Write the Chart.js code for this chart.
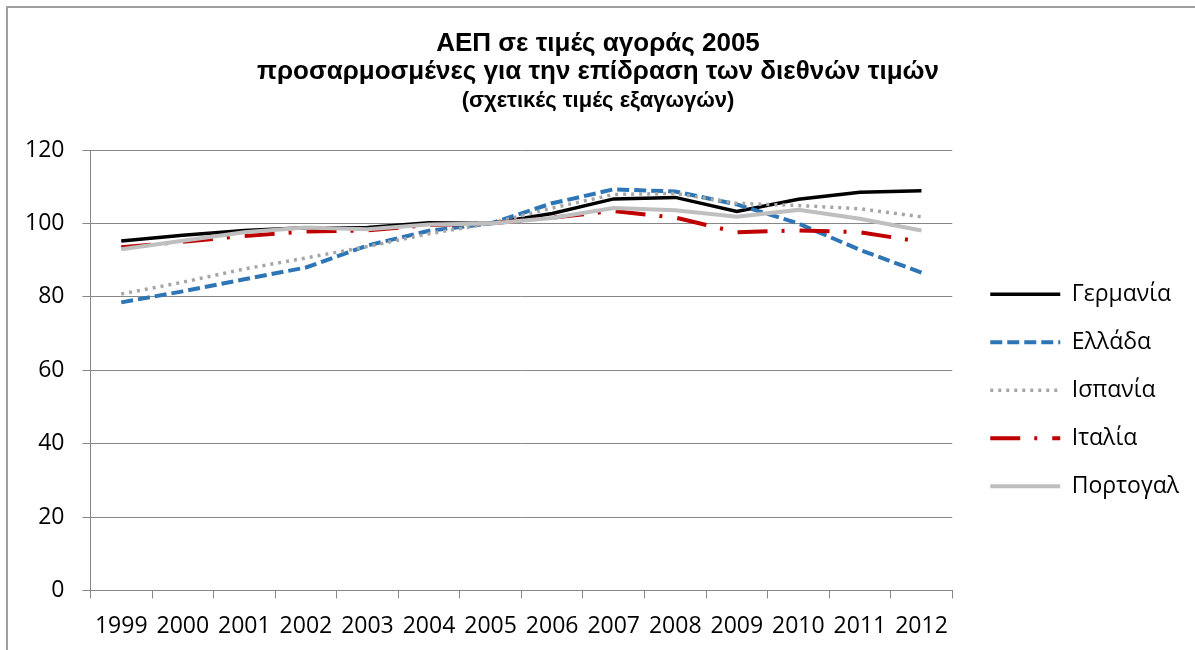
<!DOCTYPE html>
<html>
<head>
<meta charset="utf-8">
<script src="https://cdn.jsdelivr.net/npm/chart.js@4/dist/chart.umd.min.js"></script>
<style>
  html, body { margin: 0; padding: 0; background: #fff; }
  #frame { position: absolute; left: 6px; top: 6px; width: 1200px; height: 660px;
           border-left: 2px solid #a0a0a0; border-top: 2px solid #a0a0a0; }
  #wrap { position: absolute; left: 0; top: 0; width: 1195px; height: 650px; }
</style>
</head>
<body>
<div id="frame"></div>
<div id="wrap"><canvas id="c" width="1195" height="650"></canvas></div>
<script>
const years = ['1999','2000','2001','2002','2003','2004','2005','2006','2007','2008','2009','2010','2011','2012'];
const germany  = [95.2, 96.8, 98.1, 98.8, 98.9, 100.2, 100, 102.7, 106.7, 107.1, 103.3, 106.6, 108.5, 108.9];
const greece   = [78.5, 81.5, 84.8, 88.0, 94.0, 98.0, 100, 105.5, 109.3, 108.7, 105.2, 100.0, 92.8, 86.6];
const spain    = [80.8, 84.0, 87.6, 90.6, 93.7, 97.2, 100, 104.2, 107.9, 108.2, 105.5, 104.9, 104.0, 101.8];
const italy    = [93.5, 95.0, 96.6, 97.8, 98.1, 99.6, 100, 101.6, 103.4, 101.6, 97.6, 98.1, 97.6, 95.0];
const portugal = [93.0, 95.3, 97.6, 98.9, 98.4, 99.7, 100, 101.5, 104.2, 103.6, 101.8, 103.7, 101.3, 98.1];
const seriesNames = ['Γερμανία', 'Ελλάδα', 'Ισπανία', 'Ιταλία', 'Πορτογαλ'];
const titleLines = ['ΑΕΠ σε τιμές αγοράς 2005', 'προσαρμοσμένες για την επίδραση των διεθνών τιμών'];
const subtitleText = '(σχετικές τιμές εξαγωγών)';
const yTicks = [0, 20, 40, 60, 80, 100, 120];

const tickFont = { family: "'Open Sans', 'Noto Sans', sans-serif", size: 23 };
const titleFamily = "'Liberation Sans', Arial, sans-serif";

new Chart(document.getElementById('c'), {
  type: 'line',
  data: {
    labels: years,
    datasets: [
      { label: seriesNames[0], data: germany, borderColor: '#000000', backgroundColor: '#000000',
        borderWidth: 3.5, order: 4 },
      { label: seriesNames[1], data: greece, borderColor: '#2e75b6', backgroundColor: '#2e75b6',
        borderWidth: 4, borderDash: [12, 5], order: 3 },
      { label: seriesNames[2], data: spain, borderColor: '#a6a6a6', backgroundColor: '#a6a6a6',
        borderWidth: 3.5, borderDash: [3, 5], order: 2 },
      { label: seriesNames[3], data: italy, borderColor: '#c00000', backgroundColor: '#c00000',
        borderWidth: 4, borderDash: [30, 14, 3, 15], order: 1 },
      { label: seriesNames[4], data: portugal, borderColor: '#bfbfbf', backgroundColor: '#bfbfbf',
        borderWidth: 4, order: 0 }
    ]
  },
  options: {
    responsive: false,
    animation: false,
    devicePixelRatio: 1,
    elements: { point: { radius: 0 }, line: { tension: 0 } },
    layout: { padding: { left: 7, right: 6, top: 30, bottom: -4 } },
    plugins: {
      title: { display: true, text: titleLines, color: '#000',
        font: { family: titleFamily, size: 26, weight: 'bold', lineHeight: 1.08 },
        padding: { top: 0, bottom: 0 } },
      subtitle: { display: true, text: subtitleText, color: '#000',
        font: { family: titleFamily, size: 22, weight: 'bold', lineHeight: 1.36 },
        padding: { top: 0, bottom: 34 } },
      legend: { position: 'right', fullSize: false, maxWidth: 320,
        title: { display: true, text: ' ', font: { size: 10, lineHeight: 1 }, padding: { top: 0, bottom: 30 } },
        labels: { usePointStyle: true, pointStyle: 'line', pointStyleWidth: 70,
          boxHeight: 23, color: '#000', padding: 25, font: tickFont,
          sort: (a, b) => a.datasetIndex - b.datasetIndex,
          generateLabels: (chart) => {
            const items = Chart.defaults.plugins.legend.labels.generateLabels(chart);
            items.forEach(it => {
              const ds = chart.data.datasets[it.datasetIndex];
              it.lineDash = ds.borderDash || [];
              it.lineWidth = ds.borderWidth;
              it.strokeStyle = ds.borderColor;
              it.lineCap = 'butt';
            });
            return items;
          } } },
      tooltip: { enabled: false }
    },
    scales: {
      x: {
        offset: true,
        grid: { display: true, offset: true, drawOnChartArea: false, drawTicks: true,
          tickLength: 8, color: '#868686', lineWidth: 1 },
        border: { display: true, color: '#868686', width: 1 },
        ticks: { color: '#000', font: tickFont, padding: 14, maxRotation: 0, autoSkip: false }
      },
      y: {
        min: 0, max: 120,
        afterBuildTicks: (axis) => { axis.ticks = yTicks.map(v => ({ value: v })); },
        grid: { color: '#868686', lineWidth: 1, tickLength: 8, drawTicks: true },
        border: { display: true, color: '#868686', width: 1 },
        ticks: { color: '#000', font: tickFont, padding: 18 }
      },
      gap: {
        type: 'linear', position: 'right', display: true,
        grid: { display: false, drawTicks: false }, border: { display: false },
        ticks: { display: false },
        afterFit: (scale) => { scale.width = 13; }
      }
    }
  }
});
</script>
</body>
</html>
